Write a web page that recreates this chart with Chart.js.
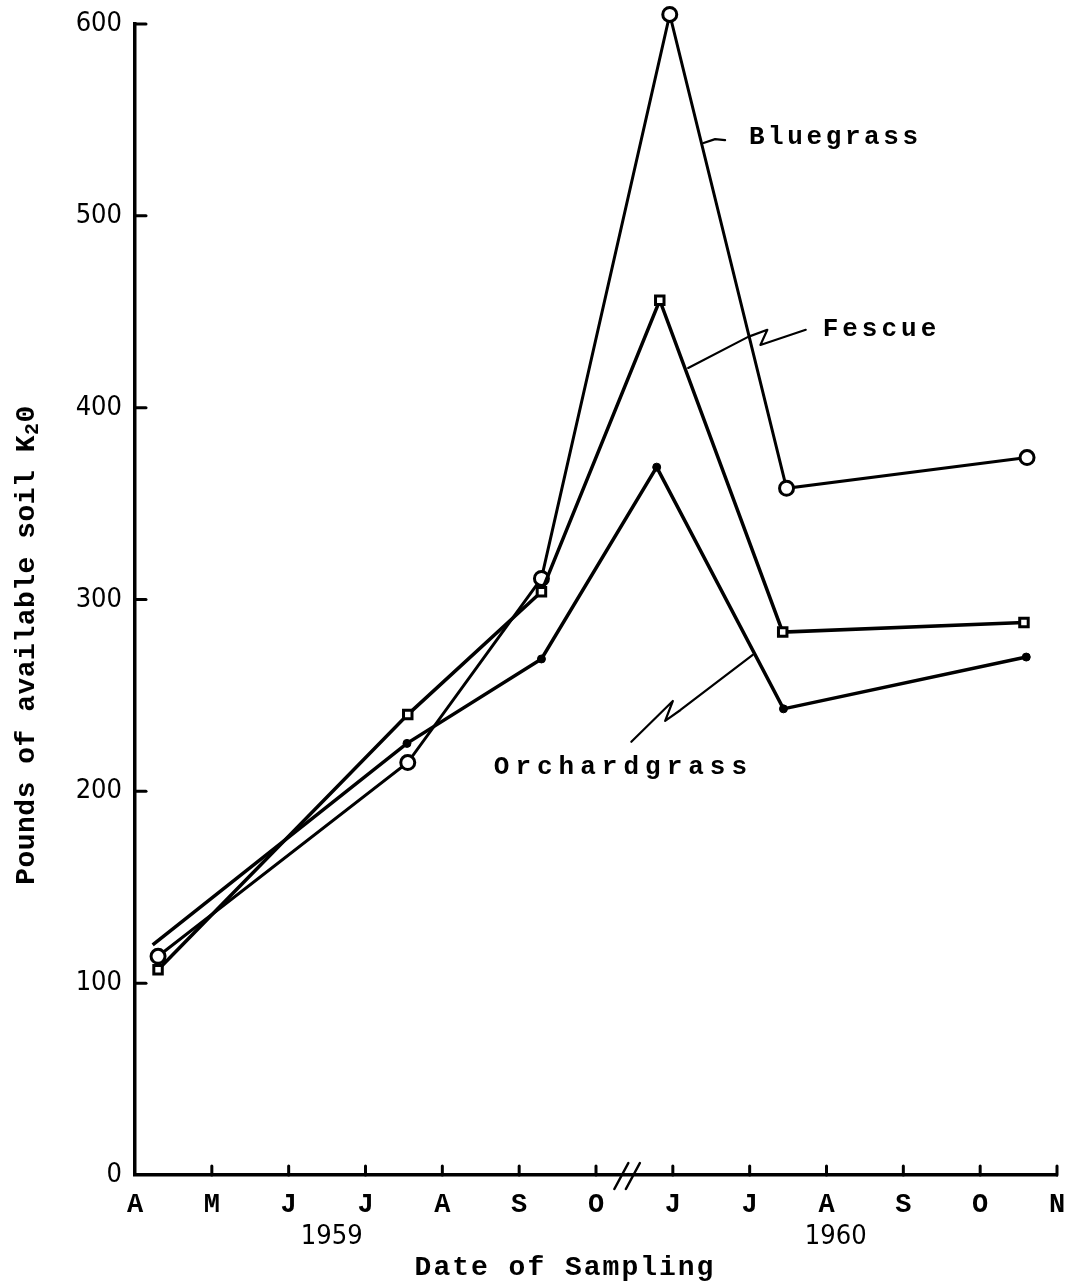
<!DOCTYPE html>
<html>
<head>
<meta charset="utf-8">
<script src="https://cdn.jsdelivr.net/npm/chart.js@4.4.0/dist/chart.umd.min.js"></script>
<style>
  html, body { margin: 0; padding: 0; background: #fff; }
  #wrap { width: 1074px; height: 1287px; }
</style>
</head>
<body>
<div id="wrap"><canvas id="chart"></canvas></div>
<script>
// month letters on the (broken) time axis, Apr 1959 .. Nov 1960
const monthTicks = ['A', 'M', 'J', 'J', 'A', 'S', 'O', 'J', 'J', 'A', 'S', 'O', 'N'];
const yearLabels = ['1959', '1960'];
const yearAt = [2.56, 9.12];
const breakAt = [6.33, 6.48];

// sampling dates (position on month axis) and pounds of K2O
const bluegrassX = [0.30, 3.55, 5.29, 6.96, 8.48, 11.61];
const bluegrassY = [114, 215, 311, 605, 358, 374];
const fescueX = [0.30, 3.55, 5.29, 6.83, 8.43, 11.57];
const fescueY = [107, 240, 304, 456, 283, 288];
const orchardX = [0.23, 3.54, 5.29, 6.79, 8.44, 11.60];
const orchardY = [120, 225, 269, 369, 243, 270];

// curve labels with their hand drawn leader lines (data units)
const notes = [
    { text: 'Bluegrass', at: [7.99, 541], spacing: 3.6,
      leader: [[7.40, 538], [7.55, 540], [7.68, 539.5]] },
    { text: 'Fescue', at: [8.95, 440.6], spacing: 4,
      leader: [[7.20, 420.7], [7.98, 436.9], [8.23, 440.6], [8.14, 432.7], [8.73, 440.6]] },
    { text: 'Orchardgrass', at: [4.67, 212.7], spacing: 6,
      leader: [[8.04, 271.1], [7.10, 242.4], [6.90, 236.7], [7.00, 247.1], [6.46, 225.8]] }
];

const toPts = (xs, ys) => xs.map((x, i) => ({ x: x, y: ys[i] }));
const mono = '"Liberation Mono", "DejaVu Sans Mono", monospace';
const sans = '"Liberation Sans Narrow", "DejaVu Sans Condensed", "DejaVu Sans", sans-serif';

const extras = {
    id: 'extras',
    afterDraw(chart) {
        const ctx = chart.ctx;
        const xs = chart.scales.x, ys = chart.scales.y;
        const area = chart.chartArea;
        ctx.save();
        ctx.strokeStyle = '#000';
        ctx.fillStyle = '#000';
        ctx.lineCap = 'round';

        // inward tick marks
        ctx.lineWidth = 3;
        ys.ticks.forEach(t => {
            if (t.value === 0) return;
            const y = ys.getPixelForValue(t.value);
            ctx.beginPath();
            ctx.moveTo(area.left, y);
            ctx.lineTo(area.left + 11, y);
            ctx.stroke();
        });
        xs.ticks.forEach(t => {
            if (t.value === 0) return;
            const x = xs.getPixelForValue(t.value);
            ctx.beginPath();
            ctx.moveTo(x, area.bottom);
            ctx.lineTo(x, area.bottom - 9);
            ctx.stroke();
        });

        // axis break //
        ctx.lineWidth = 2.5;
        breakAt.forEach(v => {
            const x = xs.getPixelForValue(v);
            ctx.beginPath();
            ctx.moveTo(x - 7, area.bottom + 14);
            ctx.lineTo(x + 7, area.bottom - 12);
            ctx.stroke();
        });

        // years under the month letters
        ctx.font = '27px ' + sans;
        ctx.textAlign = 'center';
        ctx.textBaseline = 'middle';
        yearLabels.forEach((t, i) => {
            ctx.fillText(t, xs.getPixelForValue(yearAt[i]), 1237);
        });

        // x title
        ctx.font = 'bold 28px ' + mono;
        ctx.letterSpacing = '2px';
        ctx.fillText('Date of Sampling', 565, 1268);

        // y title, rotated, with subscript 2
        ctx.save();
        ctx.translate(27, 645);
        ctx.rotate(-Math.PI / 2);
        ctx.letterSpacing = '0.5px';
        const main = 'Pounds of available soil K';
        ctx.font = 'bold 28px ' + mono;
        const w1 = ctx.measureText(main).width;
        ctx.font = 'bold 20px ' + mono;
        const w2 = ctx.measureText('2').width;
        ctx.font = 'bold 28px ' + mono;
        const w3 = ctx.measureText('0').width;
        const x0 = -(w1 + w2 + w3) / 2;
        ctx.textAlign = 'left';
        ctx.fillText(main, x0, 0);
        ctx.font = 'bold 20px ' + mono;
        ctx.fillText('2', x0 + w1, 6);
        ctx.font = 'bold 28px ' + mono;
        ctx.fillText('0', x0 + w1 + w2, 0);
        ctx.restore();

        // curve labels and leaders
        ctx.lineWidth = 2.2;
        ctx.lineJoin = 'round';
        notes.forEach(n => {
            ctx.beginPath();
            n.leader.forEach((p, i) => {
                const px = xs.getPixelForValue(p[0]), py = ys.getPixelForValue(p[1]);
                if (i === 0) ctx.moveTo(px, py); else ctx.lineTo(px, py);
            });
            ctx.stroke();
            ctx.font = 'bold 26px ' + mono;
            ctx.letterSpacing = n.spacing + 'px';
            ctx.textAlign = 'left';
            ctx.textBaseline = 'middle';
            ctx.fillText(n.text, xs.getPixelForValue(n.at[0]), ys.getPixelForValue(n.at[1]));
        });
        ctx.restore();
    }
};

new Chart(document.getElementById('chart'), {
    type: 'line',
    data: {
        datasets: [
            {
                label: 'Orchardgrass',
                data: toPts(orchardX, orchardY),
                borderColor: '#000',
                borderWidth: 3.5,
                pointStyle: 'circle',
                pointRadius: [0, 4, 4, 4, 4, 4],
                pointBackgroundColor: '#000',
                pointBorderColor: '#000',
                pointBorderWidth: 1,
                clip: false
            },
            {
                label: 'Fescue',
                data: toPts(fescueX, fescueY),
                borderColor: '#000',
                borderWidth: 3.5,
                pointStyle: 'rect',
                pointRadius: 6,
                pointBackgroundColor: '#fff',
                pointBorderColor: '#000',
                pointBorderWidth: 3,
                clip: false
            },
            {
                label: 'Bluegrass',
                data: toPts(bluegrassX, bluegrassY),
                borderColor: '#000',
                borderWidth: 3,
                pointStyle: 'circle',
                pointRadius: 7,
                pointBackgroundColor: '#fff',
                pointBorderColor: '#000',
                pointBorderWidth: 3,
                clip: false
            }
        ]
    },
    options: {
        responsive: true,
        maintainAspectRatio: false,
        animation: false,
        layout: { padding: { top: 24, right: 17, left: 0, bottom: 0 } },
        plugins: {
            legend: { display: false },
            tooltip: { enabled: false }
        },
        scales: {
            x: {
                type: 'linear',
                min: 0,
                max: 12,
                ticks: {
                    stepSize: 1,
                    autoSkip: false,
                    maxRotation: 0,
                    padding: 14,
                    color: '#000',
                    font: { family: mono, size: 27, weight: 'bold' },
                    callback: v => monthTicks[v]
                },
                grid: { display: true, drawOnChartArea: false, drawTicks: false },
                border: { color: '#000', width: 3.5 },
                afterFit: s => { s.height = 112; s.paddingLeft = 0; s.paddingRight = 0; }
            },
            y: {
                min: 0,
                max: 600,
                ticks: {
                    stepSize: 100,
                    padding: 13,
                    color: '#000',
                    font: { family: sans, size: 27, lineHeight: 1 }
                },
                grid: { display: true, drawOnChartArea: false, drawTicks: false },
                border: { color: '#000', width: 3.5 },
                afterFit: s => { s.width = 135; s.paddingTop = 0; s.paddingBottom = 0; }
            }
        }
    },
    plugins: [extras]
});
</script>
</body>
</html>
